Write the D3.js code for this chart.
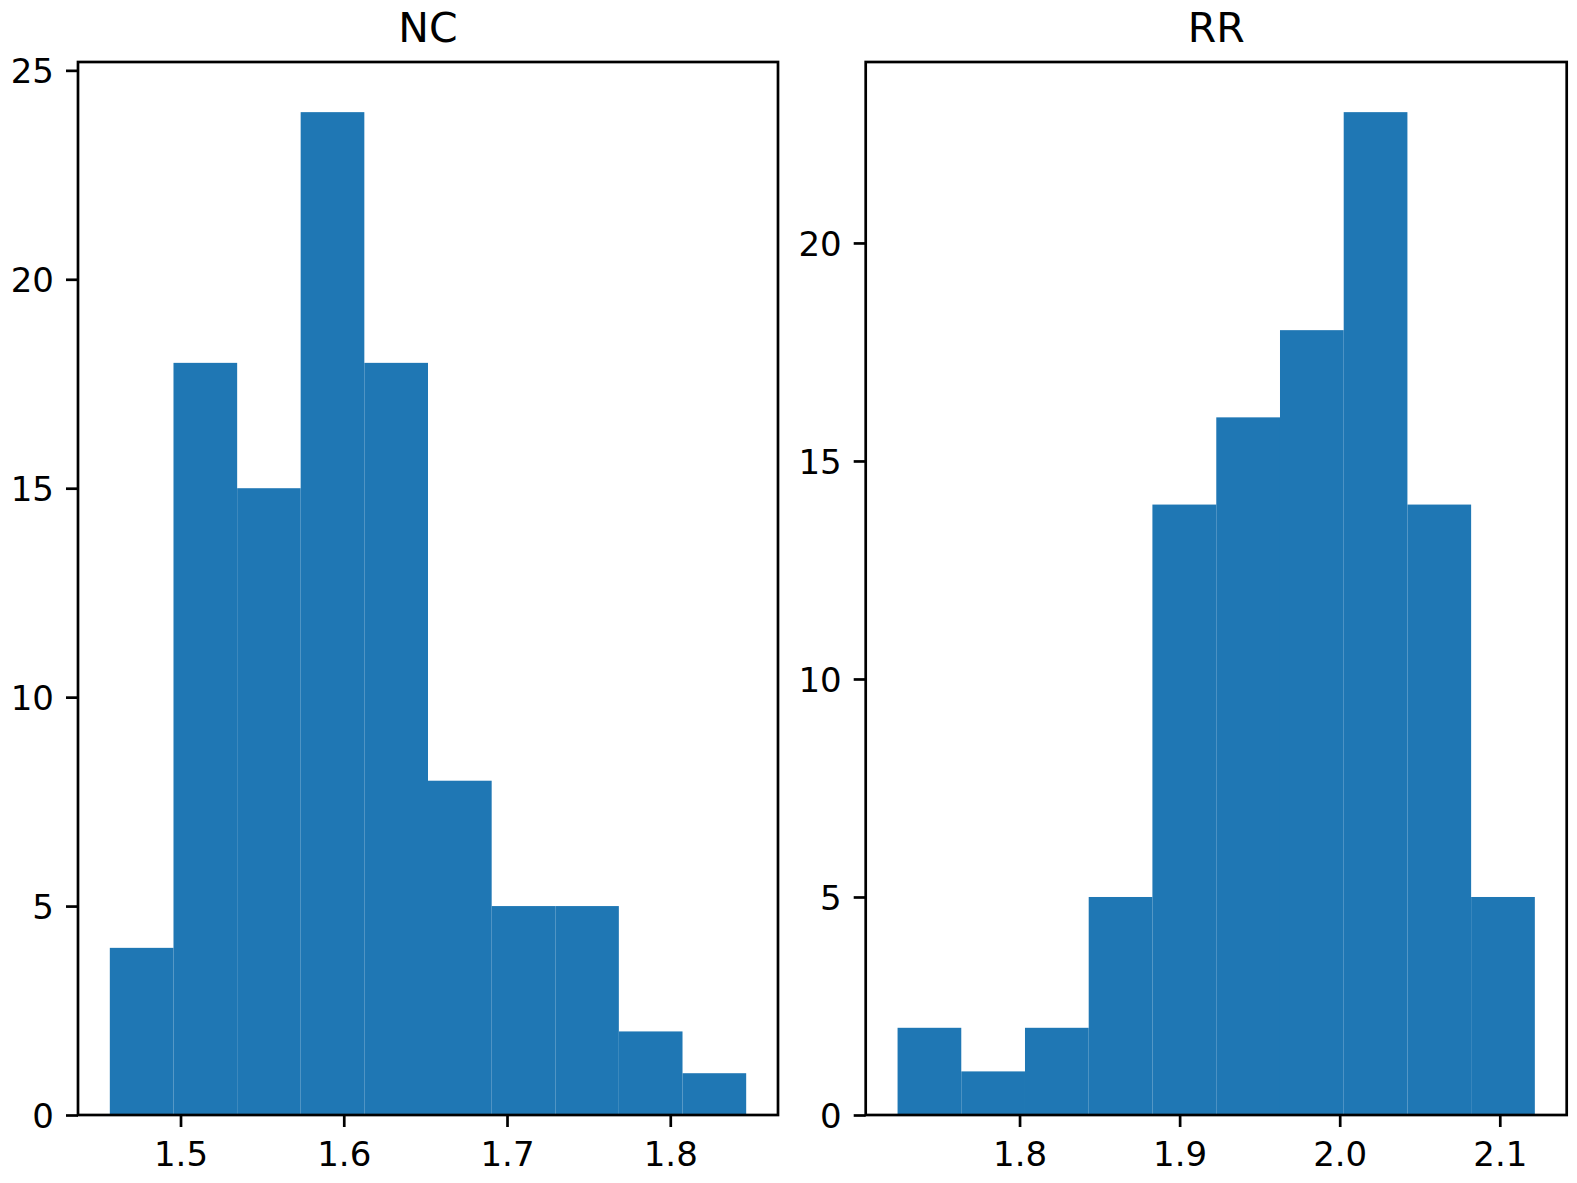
<!DOCTYPE html>
<html>
<head>
<meta charset="utf-8">
<script src="https://cdn.jsdelivr.net/npm/d3@7"></script>
<style>
  body { margin: 0; background: #fff; }
  svg text { font-family: "DejaVu Sans", sans-serif; fill: #000; }
</style>
</head>
<body>
<svg id="chart"></svg>
<script>
// NC histogram: bin edges and counts
const ncEdges = [1.4567, 1.4957, 1.5347, 1.5736, 1.6126, 1.6516, 1.6906, 1.7296, 1.7685, 1.8075, 1.8465];
const ncCounts = [4, 18, 15, 24, 18, 8, 5, 5, 2, 1];
const ncXTicks = [1.5, 1.6, 1.7, 1.8];
const ncYTicks = [0, 5, 10, 15, 20, 25];

// RR histogram
const rrEdges = [1.7238, 1.7636, 1.8034, 1.8432, 1.8830, 1.9229, 1.9627, 2.0025, 2.0423, 2.0821, 2.1219];
const rrCounts = [2, 1, 2, 5, 14, 16, 18, 23, 14, 5];
const rrXTicks = [1.8, 1.9, 2.0, 2.1];
const rrYTicks = [0, 5, 10, 15, 20];

const panelTitles = ["NC", "RR"];

const chartWidth = 1577;
const chartHeight = 1183;
const plotTop = 62, plotBottom = 1115;
const tickLen = 12, tickPad = 12, lineW = 2.7;

const svg = d3.select('#chart')
    .attr('width', chartWidth)
    .attr('height', chartHeight);

function drawHist(left, right, edges, counts, xTicks, yTicks, title) {
    const bins = counts.map((c, i) => ({ x0: edges[i], x1: edges[i + 1], count: c }));
    const span = edges[edges.length - 1] - edges[0];
    // matplotlib style 5% x margin, 5% head room on y
    const x = d3.scaleLinear()
        .domain([edges[0] - span * 0.05, edges[edges.length - 1] + span * 0.05])
        .range([left, right]);
    const y = d3.scaleLinear()
        .domain([0, d3.max(counts) * 1.05])
        .range([plotBottom, plotTop]);

    const g = svg.append('g');

    g.selectAll('.bar')
        .data(bins)
        .enter()
        .append('rect')
        .attr('class', 'bar')
        .attr('x', d => x(d.x0))
        .attr('y', d => y(d.count))
        .attr('width', d => x(d.x1) - x(d.x0))
        .attr('height', d => y(0) - y(d.count))
        .style('fill', '#1f77b4');

    const xAxis = d3.axisBottom(x)
        .tickValues(xTicks)
        .tickFormat(d3.format('.1f'))
        .tickSize(tickLen)
        .tickPadding(tickPad);
    const yAxis = d3.axisLeft(y)
        .tickValues(yTicks)
        .tickFormat(d3.format('d'))
        .tickSize(tickLen)
        .tickPadding(tickPad);

    const xg = g.append('g')
        .attr('transform', `translate(0, ${plotBottom})`)
        .call(xAxis);
    const yg = g.append('g')
        .attr('transform', `translate(${left}, 0)`)
        .call(yAxis);

    [xg, yg].forEach(a => {
        a.select('.domain').remove();
        a.selectAll('.tick line').attr('stroke', '#000').attr('stroke-width', lineW);
        a.selectAll('.tick text')
            .style('font-size', '34px')
            .attr('fill', '#000');
    });
    xg.selectAll('.tick text').attr('dy', '0.78em');
    yg.selectAll('.tick text').attr('dy', '0.36em');

    // frame (spines)
    g.append('rect')
        .attr('x', left)
        .attr('y', plotTop)
        .attr('width', right - left)
        .attr('height', plotBottom - plotTop)
        .attr('fill', 'none')
        .attr('stroke', '#000')
        .attr('stroke-width', lineW)
        .attr('stroke-linejoin', 'miter');

    g.append('text')
        .attr('x', (left + right) / 2)
        .attr('y', plotTop - 20)
        .style('text-anchor', 'middle')
        .style('font-size', '41px')
        .text(title);
}

drawHist(78, 778, ncEdges, ncCounts, ncXTicks, ncYTicks, panelTitles[0]);
drawHist(865.7, 1566.7, rrEdges, rrCounts, rrXTicks, rrYTicks, panelTitles[1]);
</script>
</body>
</html>
